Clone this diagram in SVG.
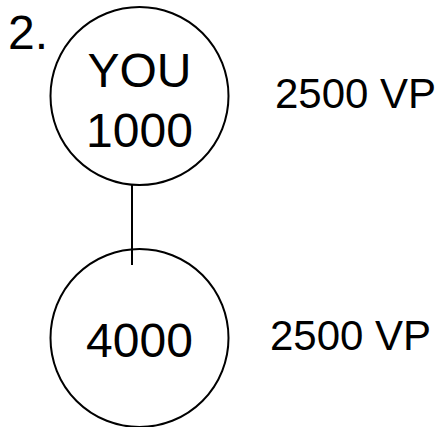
<svg xmlns="http://www.w3.org/2000/svg" width="445" height="427" viewBox="0 0 445 427">
<style>
.n{fill:none;stroke:#000;stroke-width:2}
.t{font-family:"Liberation Sans",Arial,sans-serif;fill:#000}
.c{text-anchor:middle;font-size:48px}
.l{font-size:42px}
</style>
<rect width="445" height="427" fill="#fff"/>
<text class="t" x="8" y="49" style="font-size:48px">2.</text>
<g id="node-you">
<circle class="n" cx="139.5" cy="96" r="89"/>
<text class="t c" x="139.5" y="87">YOU</text>
<text class="t c" x="139.5" y="147">1000</text>
</g>
<g id="node-4000">
<circle class="n" cx="139.5" cy="338" r="89"/>
<text class="t c" x="139.5" y="357">4000</text>
</g>
<g id="connectors">
<line x1="132" y1="185" x2="132" y2="265" stroke="#000" stroke-width="2"/>
</g>
<text class="t l" x="275" y="108">2500 VP</text>
<text class="t l" x="270" y="350">2500 VP</text>
</svg>
